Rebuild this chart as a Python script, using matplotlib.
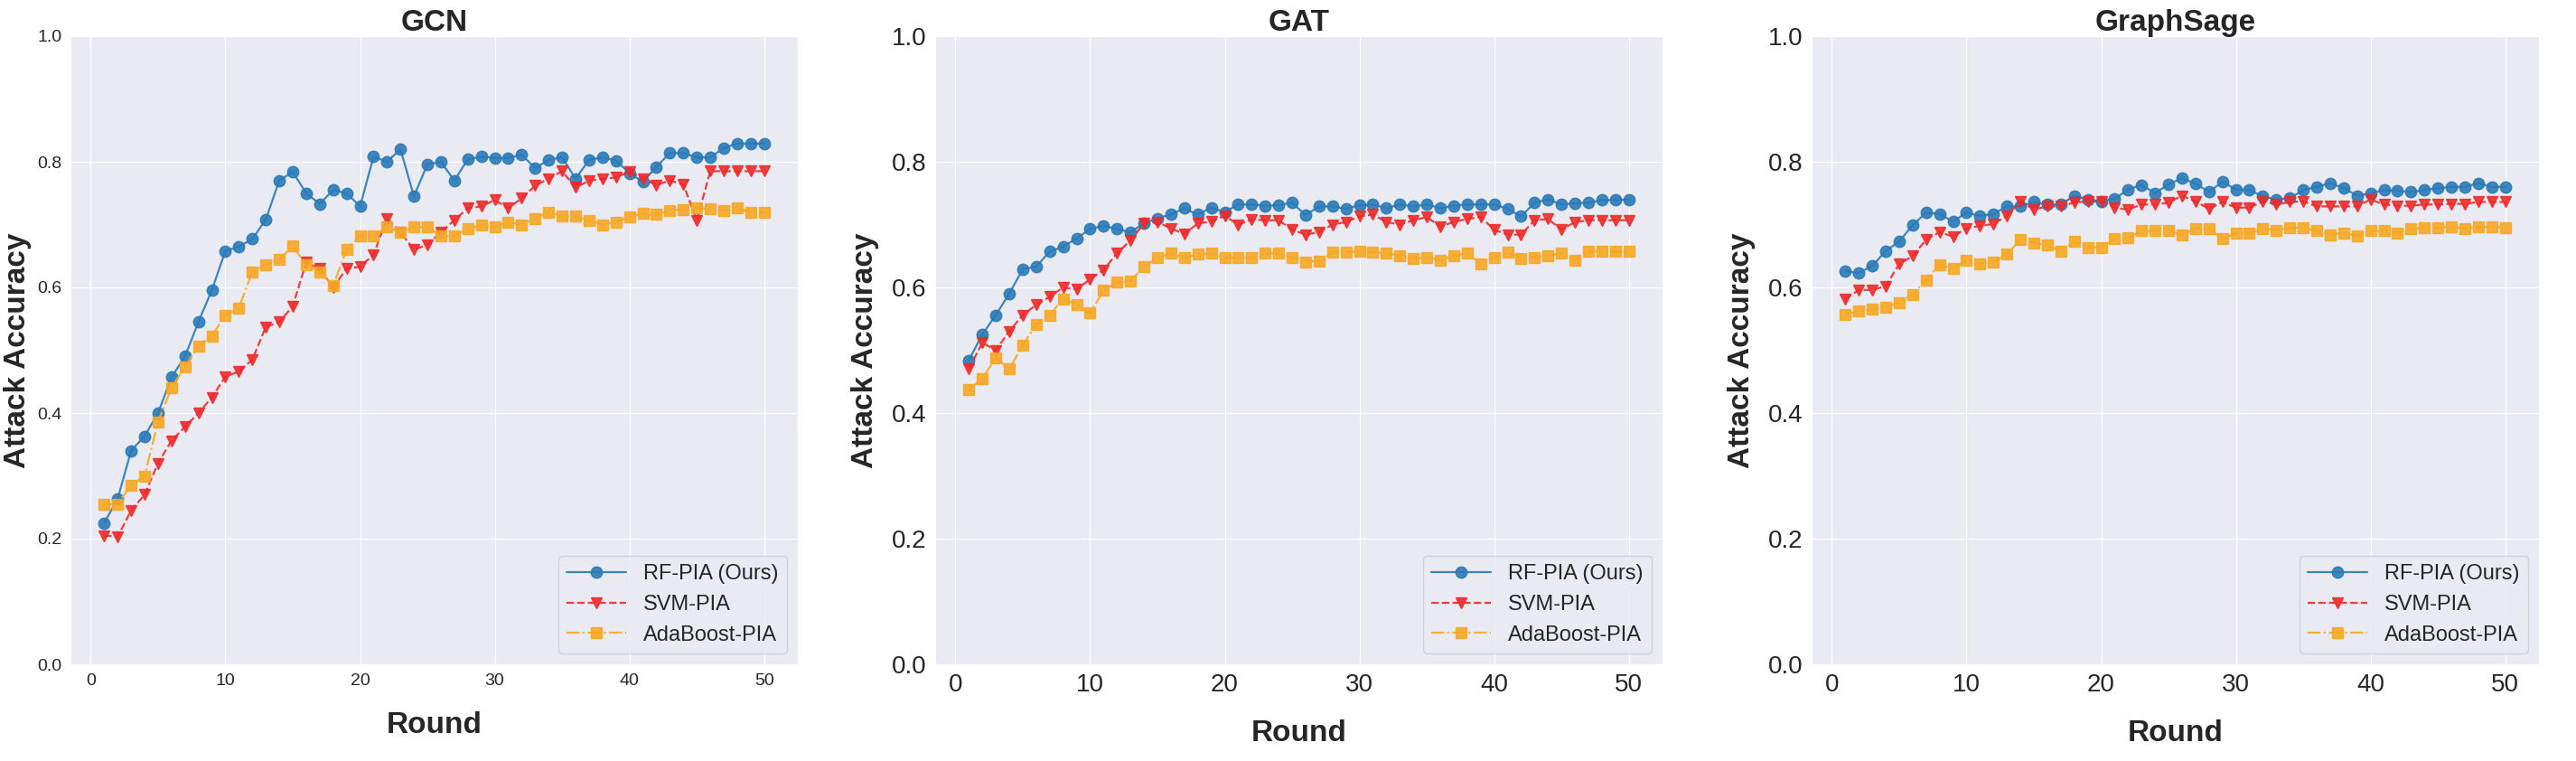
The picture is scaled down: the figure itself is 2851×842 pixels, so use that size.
import matplotlib
matplotlib.use("Agg")
import matplotlib.pyplot as plt
import seaborn as sns
import numpy as np

sns.set_style("darkgrid")
plt.rcParams['font.family'] = ['Liberation Sans', 'DejaVu Sans']

rounds = np.arange(1, 51)
titles = ["GCN", "GAT", "GraphSage"]
labels = ["RF-PIA (Ours)", "SVM-PIA", "AdaBoost-PIA"]

gcn_rf = [.225, .263, .34, .363, .40, .457, .49, .545, .596, .658,
          .665, .677, .708, .77, .784, .75, .733, .755, .75, .729,
          .808, .80, .82, .745, .796, .80, .77, .804, .808, .806,
          .806, .811, .79, .803, .807, .773, .803, .807, .802, .782,
          .768, .792, .814, .814, .807, .807, .822, .829, .829, .829]
gcn_svm = [.205, .203, .245, .27, .32, .356, .378, .40, .425, .458,
           .466, .485, .537, .545, .57, .64, .63, .60, .63, .633,
           .652, .71, .688, .66, .668, .688, .707, .726, .729, .739,
           .726, .742, .762, .773, .785, .759, .77, .773, .775, .784,
           .773, .763, .77, .764, .707, .785, .785, .785, .785, .785]
gcn_ada = [.255, .255, .285, .30, .386, .44, .474, .507, .523, .556,
           .567, .625, .636, .644, .666, .636, .625, .603, .66, .682,
           .682, .696, .688, .696, .696, .682, .682, .693, .699, .696,
           .704, .70, .71, .72, .713, .713, .707, .70, .704, .712,
           .718, .716, .723, .724, .726, .725, .723, .726, .72, .72]

gat_rf = [.484, .525, .556, .59, .629, .633, .657, .665, .678, .693,
          .698, .693, .688, .702, .71, .716, .726, .716, .727, .72,
          .732, .732, .73, .731, .735, .715, .729, .729, .725, .731,
          .732, .726, .732, .729, .732, .726, .73, .732, .732, .732,
          .725, .713, .735, .74, .732, .734, .735, .739, .739, .74]
gat_svm = [.47, .512, .50, .53, .556, .572, .585, .60, .597, .613,
           .628, .654, .675, .702, .704, .694, .685, .702, .705, .714,
           .70, .708, .707, .707, .692, .684, .688, .70, .704, .713,
           .716, .704, .70, .707, .712, .697, .704, .709, .712, .692,
           .684, .684, .707, .709, .692, .704, .707, .707, .707, .707]
gat_ada = [.437, .455, .488, .47, .508, .541, .556, .582, .573, .559,
           .595, .608, .61, .633, .648, .654, .647, .653, .654, .647,
           .648, .647, .654, .654, .648, .641, .642, .656, .656, .657,
           .656, .654, .651, .646, .648, .643, .651, .654, .638, .648,
           .656, .646, .648, .651, .654, .643, .657, .657, .657, .657]

sage_rf = [.626, .623, .634, .658, .673, .699, .719, .717, .705, .719,
           .714, .717, .729, .729, .736, .732, .732, .746, .74, .737,
           .741, .756, .763, .75, .764, .774, .765, .752, .768, .756,
           .755, .745, .74, .742, .755, .76, .766, .758, .746, .75,
           .755, .754, .752, .755, .758, .76, .76, .766, .76, .76]
sage_svm = [.581, .596, .596, .602, .637, .65, .676, .688, .681, .694,
            .698, .701, .714, .737, .724, .729, .729, .735, .737, .737,
            .727, .724, .732, .732, .735, .746, .737, .725, .736, .727,
            .727, .737, .732, .736, .737, .729, .729, .729, .729, .74,
            .732, .73, .73, .732, .732, .733, .733, .736, .736, .736]
sage_ada = [.557, .562, .565, .568, .576, .589, .612, .636, .63, .643,
            .637, .64, .653, .676, .671, .667, .658, .673, .664, .664,
            .677, .679, .69, .69, .691, .683, .694, .694, .677, .686,
            .686, .694, .691, .695, .695, .69, .684, .687, .682, .69,
            .69, .687, .693, .695, .695, .696, .694, .696, .696, .695]

data = [(gcn_rf, gcn_svm, gcn_ada), (gat_rf, gat_svm, gat_ada), (sage_rf, sage_svm, sage_ada)]

fig = plt.figure(figsize=(28.51, 8.42), dpi=100)
lefts = [78 / 2851, 1035 / 2851, 2005 / 2851]
for i, (ttl, series) in enumerate(zip(titles, data)):
    ax = fig.add_axes([lefts[i], 107 / 842, 805 / 2851, 695 / 842])
    rf, svm, ada = series
    ax.plot(rounds, rf, '-o', color='#2a7ab8', ms=9, lw=1.6, alpha=0.9, label=labels[0])
    ax.plot(rounds, svm, '--v', color='#ee2a2a', ms=9, lw=1.6, alpha=0.9, label=labels[1])
    ax.plot(rounds, ada, '-.s', color='#f7a823', ms=9, lw=1.6, alpha=0.9, label=labels[2])
    ax.set_ylim(0, 1.0)
    ax.set_xlim(-1.5, 52.5)
    ax.set_xticks([0, 10, 20, 30, 40, 50])
    ax.set_yticks([0, .2, .4, .6, .8, 1.0])
    ts = 14 if i == 0 else 20
    ax.tick_params(labelsize=ts)
    ax.set_title(ttl, fontsize=24, fontweight='bold', pad=4)
    ax.set_xlabel("Round", fontsize=24, fontweight='bold', labelpad=18)
    ax.set_ylabel("Attack Accuracy", fontsize=24, fontweight='bold', labelpad=4 if i == 0 else 10)
    ax.legend(loc='lower right', fontsize=17, frameon=True, handlelength=2.8)

fig.savefig("out.png", dpi=100)
